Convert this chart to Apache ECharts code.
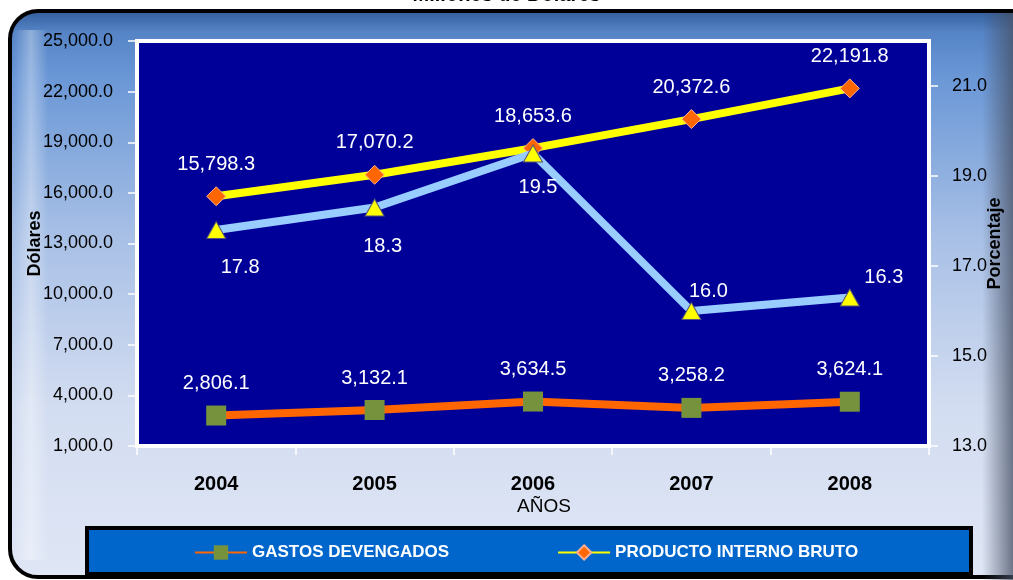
<!DOCTYPE html>
<html>
<head>
<meta charset="utf-8">
<script src="https://cdn.jsdelivr.net/npm/echarts@6/dist/echarts.min.js"></script>
<style>
  html, body { margin: 0; padding: 0; background: #ffffff; }
  #chart { width: 1013px; height: 580px; }
</style>
</head>
<body>
<div id="chart"></div>
<script>
// Años de la serie
const years = ['2004', '2005', '2006', '2007', '2008'];
// Gastos devengados (millones de dólares)
const gastos = [2806.1, 3132.1, 3634.5, 3258.2, 3624.1];
// Producto interno bruto (millones de dólares)
const pib = [15798.3, 17070.2, 18653.6, 20372.6, 22191.8];
// Gastos como porcentaje del PIB
const porcentaje = [17.8, 18.3, 19.5, 16.0, 16.3];

// Escalas de los ejes
const dolaresMin = 1000, dolaresMax = 25000, dolaresStep = 3000;
const pctMin = 13, pctMax = 22, pctStep = 2;

// Desplazamiento de cada etiqueta de porcentaje respecto a su marcador
const pctLabelOffset = [[24, 37], [8, 39], [5, 34], [17, -20], [34, -20]];

const FONT = "'Liberation Sans', Arial, sans-serif";

function fmt(v, d) {
  const parts = v.toFixed(d).split('.');
  parts[0] = parts[0].replace(/\B(?=(\d{3})+(?!\d))/g, ',');
  return parts.join('.');
}

const chart = echarts.init(document.getElementById('chart'), null, { renderer: 'canvas' });

const option = {
  backgroundColor: '#ffffff',
  animation: false,
  title: {
    text: 'Millones de Dólares',
    left: 'center',
    top: -20,
    textStyle: { fontFamily: FONT, fontSize: 20, fontWeight: 'bold', color: '#000000' }
  },
  graphic: [
    // marco exterior redondeado con degradado
    {
      type: 'rect', z: -10,
      shape: { x: 10, y: 11, width: 1030, height: 566, r: 28 },
      style: {
        fill: new echarts.graphic.LinearGradient(0, 0, 0, 1, [
          { offset: 0, color: '#2f5a98' },
          { offset: 0.04, color: '#5584c6' },
          { offset: 0.12, color: '#6a97d6' },
          { offset: 0.4, color: '#a8c0e6' },
          { offset: 0.7, color: '#d3ddf1' },
          { offset: 1, color: '#dfe6f5' }
        ]),
        stroke: '#000000', lineWidth: 4
      }
    },
    // brillo del borde izquierdo
    {
      type: 'rect', z: -9,
      shape: { x: 14, y: 30, width: 34, height: 530 },
      style: {
        fill: new echarts.graphic.LinearGradient(0, 0, 1, 0, [
          { offset: 0, color: 'rgba(255,255,255,0)' },
          { offset: 0.5, color: 'rgba(255,255,255,0.35)' },
          { offset: 1, color: 'rgba(255,255,255,0)' }
        ])
      }
    },
    // sombra del borde derecho
    {
      type: 'rect', z: -9,
      shape: { x: 982, y: 13, width: 31, height: 567 },
      style: {
        fill: new echarts.graphic.LinearGradient(0, 0, 1, 0, [
          { offset: 0, color: 'rgba(70,80,100,0)' },
          { offset: 1, color: 'rgba(70,80,100,0.75)' }
        ])
      }
    },
    // recuadro de la leyenda
    {
      type: 'rect', z: -5,
      shape: { x: 87, y: 528, width: 884, height: 46 },
      style: { fill: '#0066cc', stroke: '#000000', lineWidth: 4 }
    }
  ],
  legend: {
    data: ['GASTOS DEVENGADOS', 'PRODUCTO INTERNO BRUTO'],
    left: 189,
    top: 539,
    itemWidth: 52,
    itemHeight: 18,
    itemGap: 108,
    textStyle: { fontFamily: FONT, fontSize: 17, fontWeight: 'bold', color: '#ffffff' }
  },
  grid: {
    left: 137, right: 84, top: 41, bottom: 134,
    outerBoundsMode: 'none',
    containLabel: false,
    show: true,
    backgroundColor: '#000099',
    borderColor: '#ffffff',
    borderWidth: 4
  },
  xAxis: {
    type: 'category',
    data: years,
    boundaryGap: true,
    name: 'AÑOS',
    nameLocation: 'middle',
    nameGap: 51,
    nameMoveOverlap: false,
    nameTextStyle: { fontFamily: FONT, fontSize: 19, color: '#000000', padding: [0, 0, 0, 22] },
    axisLine: { show: true, lineStyle: { color: '#ffffff', width: 4 } },
    axisTick: { show: true, length: 9, lineStyle: { color: '#ffffff', width: 1.5 } },
    axisLabel: { margin: 28, fontFamily: FONT, fontSize: 20, fontWeight: 'bold', color: '#000000' },
    splitLine: { show: false }
  },
  yAxis: [
    {
      type: 'value',
      min: dolaresMin, max: dolaresMax, interval: dolaresStep,
      name: 'Dólares',
      nameLocation: 'middle',
      nameRotate: 90,
      nameGap: 93,
      nameMoveOverlap: false,
      nameTextStyle: { fontFamily: FONT, fontSize: 18, fontWeight: 'bold', color: '#000000' },
      axisLine: { show: true, lineStyle: { color: '#ffffff', width: 4 } },
      axisTick: { show: true, length: 9, lineStyle: { color: '#ffffff', width: 1.5 } },
      axisLabel: {
        margin: 24, fontFamily: FONT, fontSize: 18, color: '#000000',
        formatter: v => fmt(v, 1)
      },
      splitLine: { show: false }
    },
    {
      type: 'value',
      position: 'right',
      min: pctMin, max: pctMax, interval: pctStep,
      name: 'Porcentaje',
      nameLocation: 'middle',
      nameRotate: 90,
      nameGap: 57,
      nameMoveOverlap: false,
      nameTextStyle: { fontFamily: FONT, fontSize: 18, fontWeight: 'bold', color: '#000000' },
      axisLine: { show: true, lineStyle: { color: '#ffffff', width: 4 } },
      axisTick: { show: true, length: 9, lineStyle: { color: '#ffffff', width: 1.5 } },
      axisLabel: {
        margin: 23, fontFamily: FONT, fontSize: 18, color: '#000000',
        showMaxLabel: false,
        formatter: v => fmt(v, 1)
      },
      splitLine: { show: false }
    }
  ],
  series: [
    {
      name: 'GASTOS DEVENGADOS',
      type: 'line',
      yAxisIndex: 0,
      data: gastos,
      symbol: 'rect',
      symbolSize: 20,
      itemStyle: { color: '#76923c' },
      lineStyle: { color: '#ff6600', width: 8 },
      label: {
        show: true, position: 'top', distance: 12,
        fontFamily: FONT, fontSize: 20, color: '#ffffff',
        formatter: p => fmt(p.value, 1)
      },
      z: 3
    },
    {
      name: 'PRODUCTO INTERNO BRUTO',
      type: 'line',
      yAxisIndex: 0,
      data: pib,
      symbol: 'diamond',
      symbolSize: 19,
      itemStyle: { color: '#ff6600', borderColor: '#ffb090', borderWidth: 1 },
      lineStyle: { color: '#ffff00', width: 8 },
      label: {
        show: true, position: 'top', distance: 12,
        fontFamily: FONT, fontSize: 20, color: '#ffffff',
        formatter: p => fmt(p.value, 1)
      },
      z: 3
    },
    {
      name: 'Porcentaje',
      type: 'line',
      yAxisIndex: 1,
      data: porcentaje.map((v, i) => ({
        value: v,
        label: { offset: pctLabelOffset[i] }
      })),
      symbol: 'triangle',
      symbolSize: [19, 17],
      itemStyle: { color: '#ffff00', borderColor: '#555577', borderWidth: 1 },
      lineStyle: { color: '#99ccff', width: 8 },
      label: {
        show: true, position: 'inside',
        fontFamily: FONT, fontSize: 20, color: '#ffffff',
        formatter: p => fmt(p.value, 1)
      },
      z: 4
    }
  ]
};

chart.setOption(option);
</script>
</body>
</html>
